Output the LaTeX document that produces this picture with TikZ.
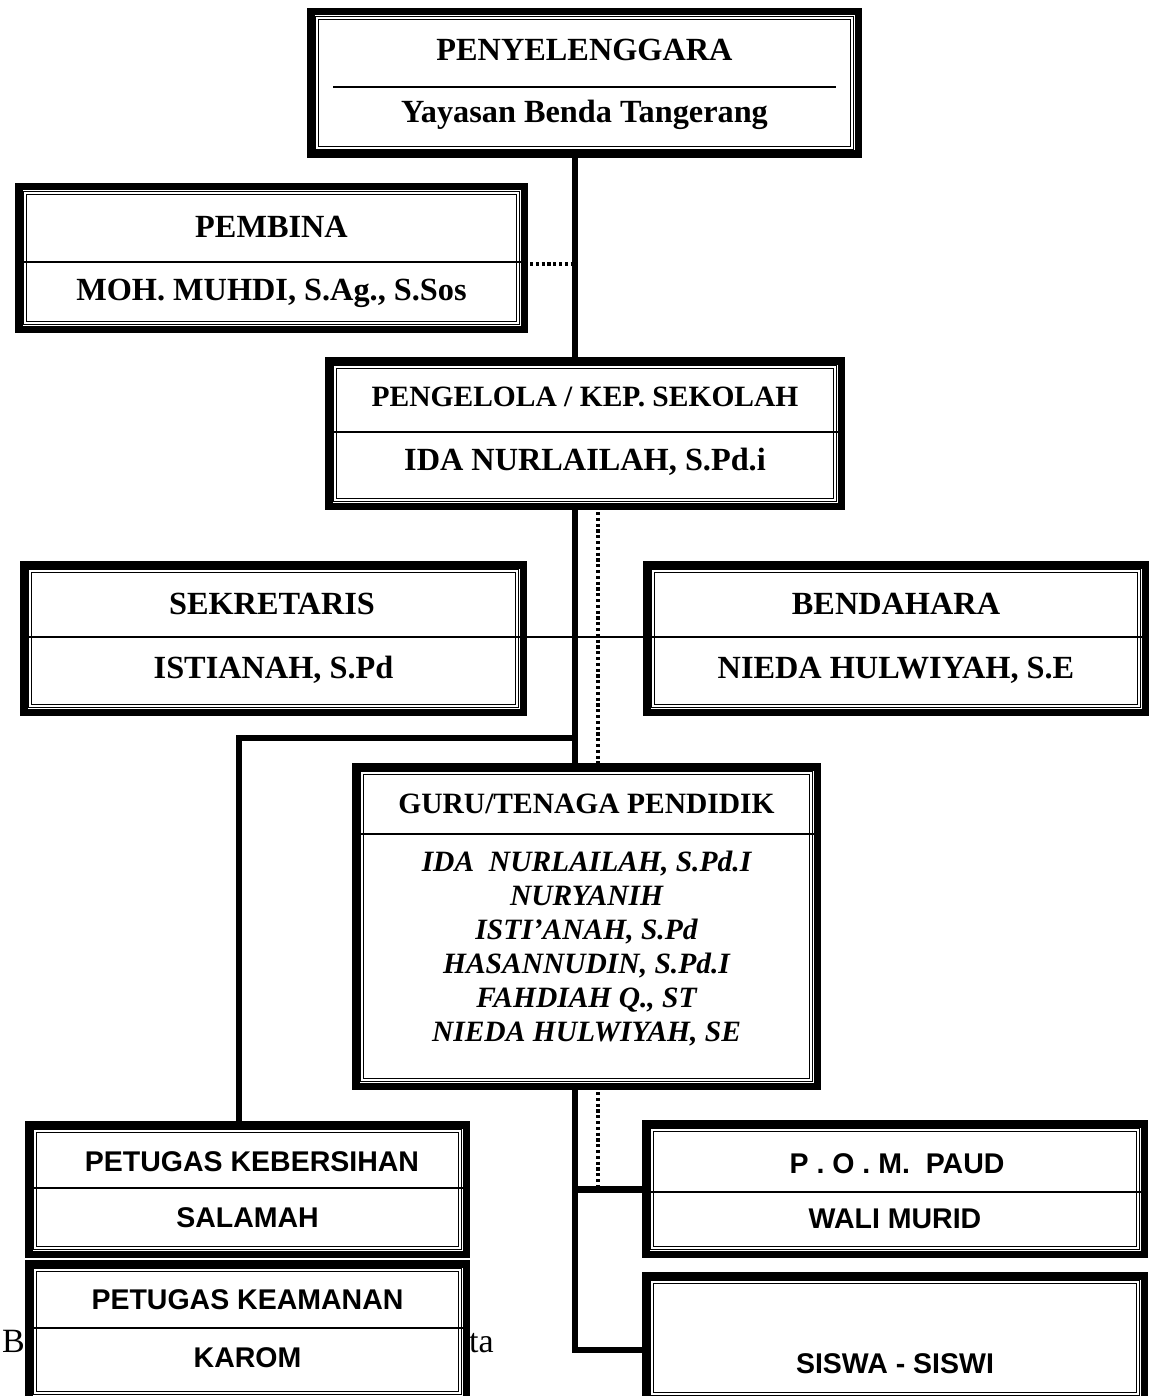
\documentclass[tikz,border=0pt]{standalone}
\usepackage{fontspec}
\setmainfont{Liberation Serif}
\setsansfont{Liberation Sans}

\tikzset{
  luar/.style={draw, line width=7.5pt, fill=white, inner sep=0pt, outer sep=0pt},
  dalam/.style={draw, line width=1pt, double, double distance=1.6pt, inner sep=0pt, outer sep=0pt},
  sekat/.style={line width=1.2pt},
  hubung/.style={line width=5.5pt},
  titik/.style={line width=3.2pt, dash pattern=on 3.2pt off 2.6pt},
  judul/.style={font=\fontsize{29.5}{34}\selectfont\bfseries, inner sep=0pt, text height=19.5pt, text depth=0pt},
  besar/.style={font=\fontsize{32.3}{36}\selectfont\bfseries, inner sep=0pt, text height=21.4pt, text depth=0pt},
  miring/.style={font=\fontsize{29.5}{34}\selectfont\bfseries\itshape, inner sep=0pt, align=center},
  tegak/.style={font=\fontsize{28.5}{34}\selectfont\sffamily\bfseries, inner sep=0pt, text height=20.4pt, text depth=0pt},
  biasa/.style={font=\fontsize{34}{38}\selectfont, inner sep=0pt, text height=22pt, text depth=0pt}
}

\begin{document}
\begin{tikzpicture}[x=1pt, y=-1pt]
        \useasboundingbox (0,0) rectangle (1152,1396);
        \clip (0,0) rectangle (1152,1396);

        % Penyelenggara
        \node[luar, minimum width=547.5pt, minimum height=142.5pt] (yayasan) at (584.5,83) {};
        \node[dalam, minimum width=535pt, minimum height=130pt] (yayasanbk) at (yayasan) {};
        \node[besar] (penyelenggara) at (584.5,50) {PENYELENGGARA};
        \node[besar] (namayayasan) at (584.5,112) {Yayasan Benda Tangerang};
        \draw[line width=2pt] (333,87) -- (836,87);

        % Pembina
        \node[luar, minimum width=505.5pt, minimum height=142.5pt] (pembina) at (271.5,258) {};
        \node[dalam, minimum width=493pt, minimum height=130pt] (pembinabk) at (pembina) {};
        \node[besar] (judulpembina) at (271.5,227) {PEMBINA};
        \node[besar] (namapembina) at (271.5,290) {MOH. MUHDI, S.Ag., S.Sos};
        \draw[sekat] (15,262) -- (528,262);

        % Pengelola / kepala sekolah
        \node[luar, minimum width=512.5pt, minimum height=145.5pt] (pengelola) at (585,433.5) {};
        \node[dalam, minimum width=500pt, minimum height=133pt] (pengelolabk) at (pengelola) {};
        \node[judul] (judulpengelola) at (585,397) {PENGELOLA / KEP. SEKOLAH};
        \node[besar] (namapengelola) at (585,460) {IDA NURLAILAH, S.Pd.i};
        \draw[sekat] (325,432) -- (845,432);

        % Sekretaris dan bendahara (garis tengah menembus keduanya)
        \node[luar, minimum width=499.5pt, minimum height=147.5pt] (sekretaris) at (273.5,638.5) {};
        \node[dalam, minimum width=487pt, minimum height=135pt] (sekretarisbk) at (sekretaris) {};
        \node[luar, minimum width=498.5pt, minimum height=147.5pt] (bendahara) at (896,638.5) {};
        \node[dalam, minimum width=486pt, minimum height=135pt] (bendaharabk) at (bendahara) {};
        \node[besar] (judulsekretaris) at (272,604) {SEKRETARIS};
        \node[besar] (namasekretaris) at (273.5,668) {ISTIANAH, S.Pd};
        \node[besar] (judulbendahara) at (896,604) {BENDAHARA};
        \node[besar] (namabendahara) at (896,668) {NIEDA HULWIYAH, S.E};

        % Guru / tenaga pendidik
        \node[luar, minimum width=461.5pt, minimum height=319.5pt] (guru) at (586.5,926.5) {};
        \node[dalam, minimum width=449pt, minimum height=307pt] (gurubk) at (guru) {};
        \node[judul] (judulguru) at (586.5,804) {GURU/TENAGA PENDIDIK};
        \draw[sekat] (352,834) -- (821,834);
        \node[miring] (daftarguru) at (586.5,949) {IDA\ \ NURLAILAH, S.Pd.I\\NURYANIH\\ISTI’ANAH, S.Pd\\HASANNUDIN, S.Pd.I\\FAHDIAH Q., ST\\NIEDA HULWIYAH, SE};

        % Petugas kebersihan dan keamanan
        \node[luar, minimum width=437.5pt, minimum height=129.5pt] (kebersihan) at (247.5,1189.5) {};
        \node[dalam, minimum width=425pt, minimum height=117pt] (kebersihanbk) at (kebersihan) {};
        \node[tegak] (judulkebersihan) at (252,1161) {PETUGAS KEBERSIHAN};
        \node[tegak] (namakebersihan) at (247.5,1217) {SALAMAH};
        \draw[sekat] (25,1188) -- (470,1188);
        \node[luar, minimum width=437.5pt, minimum height=135.5pt] (keamanan) at (247.5,1331.5) {};
        \node[dalam, minimum width=425pt, minimum height=123pt] (keamananbk) at (keamanan) {};
        \node[tegak] (judulkeamanan) at (247.5,1299) {PETUGAS KEAMANAN};
        \node[tegak] (namakeamanan) at (247.5,1357) {KAROM};
        \draw[sekat] (25,1328) -- (470,1328);
        \node[biasa, anchor=east] (sisakiri) at (25,1341) {B};
        \node[biasa, anchor=west] (sisakanan) at (469,1341) {ta};

        % P.O.M. PAUD dan siswa
        \node[luar, minimum width=498.5pt, minimum height=130.5pt] (pom) at (895,1189) {};
        \node[dalam, minimum width=486pt, minimum height=118pt] (pombk) at (pom) {};
        \node[tegak] (judulpom) at (897,1163) {P . O . M.\ \ PAUD};
        \node[tegak] (namapom) at (895,1218) {WALI MURID};
        \node[luar, minimum width=498.5pt, minimum height=124.5pt] (siswa) at (895,1338) {};
        \node[dalam, minimum width=486pt, minimum height=112pt] (siswabk) at (siswa) {};
        \node[tegak] (judulsiswa) at (895,1363) {SISWA - SISWI};

        % Garis penghubung
        \coordinate (poros) at (575,264);
        \coordinate (garistitik) at (598,0);
        \coordinate (cabangkiri) at (575,738);
        \coordinate (sikukiri) at (239,738);
        \coordinate (cabangpom) at (575,1189);
        \coordinate (sikubawah) at (575,1350);
        \coordinate (ujungtitik) at (598,1185);
        \draw[hubung] (yayasan.south -| poros) -- (pengelola.north -| poros);
        \draw[titik] (pembina.east |- poros) -- (poros);
        \draw[hubung] (pengelola.south -| poros) -- (guru.north -| poros);
        \draw[titik] (pengelola.south -| garistitik) -- (guru.north -| garistitik);
        \draw[sekat] (20,637) -- (1149,637);
        \draw[hubung] (cabangkiri) -- (sikukiri) -- (sikukiri |- kebersihan.north);
        \draw[hubung] (guru.south -| poros) -- (sikubawah) -- (sikubawah -| siswa.west);
        \draw[titik] (guru.south -| ujungtitik) -- (ujungtitik);
        \draw[hubung] (cabangpom) -- (cabangpom -| pom.west);
        \draw[sekat] (575,1192) -- (1148,1192);
\end{tikzpicture}
\end{document}
